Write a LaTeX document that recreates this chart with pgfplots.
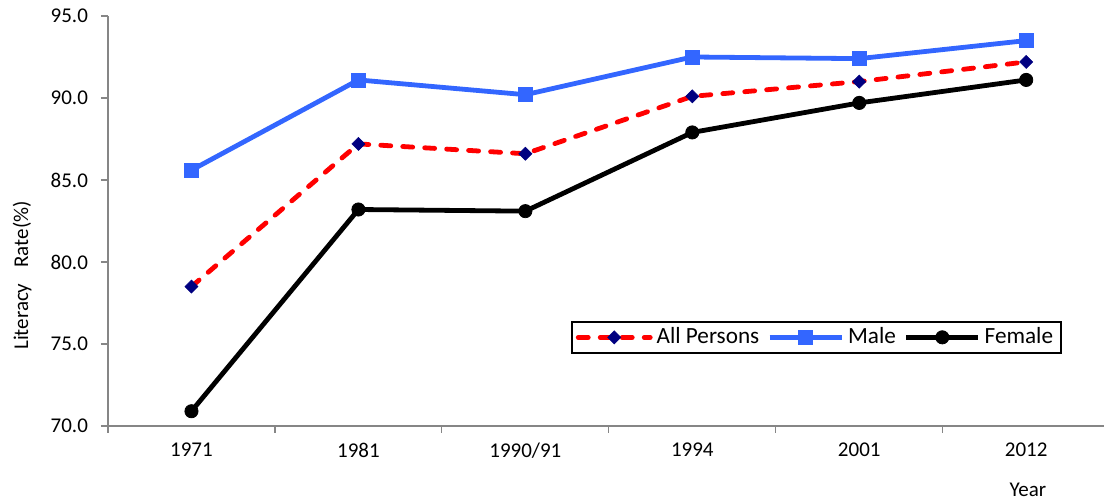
\documentclass[border=0pt]{standalone}
\usepackage{fontspec}
\setmainfont{Carlito}
\usepackage{pgfplots}
\pgfplotsset{compat=1.18}
\definecolor{mblue}{RGB}{51,102,255}
\definecolor{navy}{RGB}{0,0,128}
\definecolor{axgray}{RGB}{134,134,134}
\begin{document}
\begin{tikzpicture}
\begin{axis}[
  scale only axis, width=498pt, height=205pt,
  xmin=-0.5, xmax=5.466, ymin=70, ymax=95,
  axis x line*=bottom, axis y line*=left,
  axis line style={axgray, line width=0.6pt},
  every tick/.style={axgray, line width=0.6pt},
  tick align=outside,
  xtick={-0.5,0.5,1.5,2.5,3.5,4.5},
  xticklabels={},
  extra x ticks={0,1,2,3,4,5},
  extra x tick labels={1971,1981,1990/91,1994,2001,2012},
  extra x tick style={major tick length=0pt, tick style={draw=none}},
  ytick={70,75,80,85,90,95},
  major tick length=3.5pt,
  yticklabel style={/pgf/number format/fixed, /pgf/number format/fixed zerofill, /pgf/number format/precision=1, xshift=-3pt},
  /pgf/number format/assume math mode=true,
  tick label style={font=\fontsize{10.5}{12}\selectfont, text=black},
  xticklabel style={yshift=-5pt},
  legend style={at={(rel axis cs:0.4649,0.2561)}, anchor=north west,
    legend columns=3, draw=black, line width=0.8pt,
    font=\fontsize{11.6}{14}\selectfont,
    inner xsep=2pt, inner ysep=1pt,
    /tikz/every even column/.append style={column sep=2pt}},
  legend image code/.code={\draw[mark repeat=2,mark phase=2,#1] plot coordinates {(0pt,0pt) (18pt,0pt) (36pt,0pt)};},
  clip=false,
]
\addplot[red, line width=2.4pt, dash pattern=on 5pt off 6pt, line cap=round,
  mark=square*, mark size=2.3pt, mark options={solid, draw=navy, fill=navy, line width=0.3pt, rotate=45}]
  coordinates {(0,78.5) (1,87.2) (2,86.6) (3,90.1) (4,91.0) (5,92.2)};
\addlegendentry{All Persons}
\addplot[mblue, line width=2.4pt,
  mark=square*, mark size=3.5pt, mark options={solid, fill=mblue, line width=0.4pt}]
  coordinates {(0,85.6) (1,91.1) (2,90.2) (3,92.5) (4,92.4) (5,93.5)};
\addlegendentry{Male}
\addplot[black, line width=2.4pt,
  mark=*, mark size=3.3pt, mark options={solid, fill=black, line width=0.4pt}]
  coordinates {(0,70.9) (1,83.2) (2,83.1) (3,87.9) (4,89.7) (5,91.1)};
\addlegendentry{Female}
\node[rotate=90, anchor=center, font=\fontsize{10.5}{12}\selectfont] at (rel axis cs:-0.0863,0.367) {Literacy\hspace{8pt}Rate(\%)};
\node[anchor=center, font=\fontsize{10.5}{12}\selectfont] at (rel axis cs:0.9237,-0.156) {Year};
\coordinate (bbsw) at (rel axis cs:-0.10843,-0.1854);
\coordinate (bbne) at (rel axis cs:1,1.039);
\end{axis}
\pgfresetboundingbox
\path[use as bounding box] (bbsw) rectangle (bbne);
\end{tikzpicture}
\end{document}
